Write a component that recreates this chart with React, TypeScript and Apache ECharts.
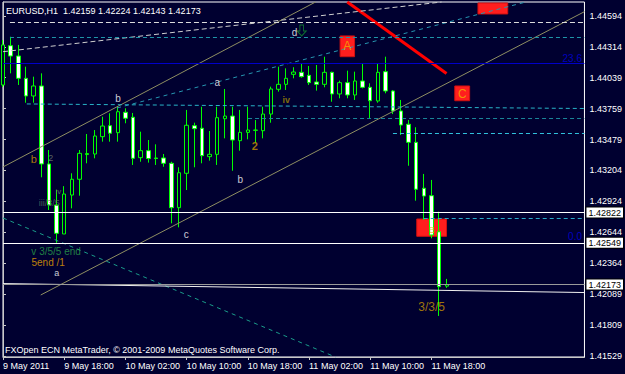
import { useEffect, useRef } from "react";
import * as echarts from "echarts";

const BG = "#000030";
const FONT = "'Liberation Sans', Arial, sans-serif";

const symbolName = "EURUSD";
const timeframe = "H1";
const copyrightText = "FXOpen ECN MetaTrader, © 2001-2009 MetaQuotes Software Corp.";

// hourly bars, 9 May 2011 10:00 .. 11 May 2011 20:00
const barTimes = [
  "9 May 10:00", "9 May 11:00", "9 May 12:00", "9 May 13:00", "9 May 14:00", "9 May 15:00", "9 May 16:00",
  "9 May 17:00", "9 May 18:00", "9 May 19:00", "9 May 20:00", "9 May 21:00", "9 May 22:00", "9 May 23:00",
  "10 May 00:00", "10 May 01:00", "10 May 02:00", "10 May 03:00", "10 May 04:00", "10 May 05:00", "10 May 06:00",
  "10 May 07:00", "10 May 08:00", "10 May 09:00", "10 May 10:00", "10 May 11:00", "10 May 12:00", "10 May 13:00",
  "10 May 14:00", "10 May 15:00", "10 May 16:00", "10 May 17:00", "10 May 18:00", "10 May 19:00", "10 May 20:00",
  "10 May 21:00", "10 May 22:00", "10 May 23:00",
  "11 May 00:00", "11 May 01:00", "11 May 02:00", "11 May 03:00", "11 May 04:00", "11 May 05:00", "11 May 06:00",
  "11 May 07:00", "11 May 08:00", "11 May 09:00", "11 May 10:00", "11 May 11:00", "11 May 12:00", "11 May 13:00",
  "11 May 14:00", "11 May 15:00", "11 May 16:00", "11 May 17:00", "11 May 18:00", "11 May 19:00", "11 May 20:00",
];
const chartShiftSlots = 18;

const opens = [
  1.43972, 1.44326, 1.44233, 1.44032, 1.43873, 1.43963, 1.4326, 1.4289, 1.42629, 1.4298,
  1.43122, 1.43345, 1.4335, 1.43506, 1.43605, 1.43542, 1.43726, 1.43681, 1.43317, 1.4338,
  1.43314, 1.43314, 1.43266, 1.42866, 1.43176, 1.43605, 1.43582, 1.43326, 1.43347, 1.43668,
  1.43692, 1.4347, 1.43545, 1.43563, 1.4356, 1.4371, 1.43933, 1.43978, 1.44068, 1.44086,
  1.44059, 1.43999, 1.43978, 1.44086, 1.43891, 1.43993, 1.43882, 1.44008, 1.43951, 1.43828,
  1.44092, 1.43918, 1.43738, 1.43618, 1.43455, 1.43041, 1.42974, 1.42649, 1.42159,
];
const highs = [
  1.44378, 1.44407, 1.44333, 1.44137, 1.44047, 1.44077, 1.43386, 1.43025, 1.4306, 1.43176,
  1.43386, 1.4353, 1.43566, 1.43686, 1.43717, 1.43776, 1.43762, 1.4372, 1.43551, 1.43476,
  1.43437, 1.4335, 1.4328, 1.4323, 1.43747, 1.43632, 1.43776, 1.43557, 1.43776, 1.43936,
  1.43776, 1.43747, 1.43776, 1.43656, 1.43776, 1.43957, 1.44137, 1.44122, 1.44132, 1.44168,
  1.44143, 1.44152, 1.44227, 1.44092, 1.44011, 1.44101, 1.44092, 1.44168, 1.43987, 1.44168,
  1.44227, 1.43927, 1.43837, 1.43656, 1.43591, 1.4317, 1.43116, 1.4283, 1.42224,
];
const lows = [
  1.43954, 1.44077, 1.43972, 1.43812, 1.43812, 1.4314, 1.42845, 1.4255, 1.42629, 1.4286,
  1.42974, 1.43266, 1.43311, 1.43461, 1.43461, 1.43461, 1.43627, 1.43251, 1.4328, 1.43272,
  1.43251, 1.43235, 1.42725, 1.42689, 1.43025, 1.4323, 1.43266, 1.4329, 1.43251, 1.43491,
  1.43199, 1.4338, 1.43482, 1.43452, 1.43491, 1.43632, 1.43912, 1.43927, 1.44032, 1.44038,
  1.43972, 1.43921, 1.43951, 1.43821, 1.43852, 1.43852, 1.43837, 1.43942, 1.43672, 1.43812,
  1.43897, 1.4371, 1.43521, 1.43244, 1.42929, 1.42755, 1.4259, 1.4189, 1.42143,
];
const closes = [
  1.44333, 1.44233, 1.44032, 1.43873, 1.43963, 1.4326, 1.4289, 1.42635, 1.42989, 1.43122,
  1.43356, 1.43354, 1.43512, 1.43602, 1.43537, 1.43731, 1.43672, 1.43311, 1.4338, 1.43309,
  1.43309, 1.43266, 1.42866, 1.43181, 1.43609, 1.43578, 1.43335, 1.43347, 1.43677, 1.43692,
  1.43476, 1.43545, 1.43566, 1.43566, 1.4371, 1.43936, 1.43978, 1.44032, 1.44089, 1.44047,
  1.43993, 1.43978, 1.44086, 1.43891, 1.43993, 1.43882, 1.44008, 1.43951, 1.4383, 1.44086,
  1.43918, 1.43738, 1.43611, 1.43455, 1.43032, 1.42971, 1.4262, 1.42154, 1.42173,
];

const yMin = 1.4152;
const yMax = 1.4472;
const yTickValues = [
  1.44594, 1.44314, 1.44039, 1.43759, 1.43479, 1.43204, 1.42924, 1.42644, 1.42364, 1.42089, 1.41809, 1.41529,
];

const xTickIndex = [0, 8, 16, 24, 32, 40, 48, 56];
const xTickLabels = [
  "9 May 2011", "9 May 18:00", "10 May 02:00", "10 May 10:00", "10 May 18:00", "11 May 02:00", "11 May 10:00", "11 May 18:00",
];

// horizontal lines with price labels on the axis
const priceLevels = [1.42822, 1.42549, 1.42173];
const priceLevelColors = ["#ffffff", "#ffffff", "#9a9a9a"];

// trend / level lines: [barIndexStart, priceStart, barIndexEnd, priceEnd]
const trendLines = [
  [0, 1.43233, 40.85, 1.4472],
  [4.93, 1.42079, 76, 1.44633],
  [45.0, 1.4472, 57.97, 1.44076],
  [0, 1.42773, 43.45, 1.4152],
  [0, 1.44272, 57.32, 1.4472],
  [14.91, 1.43765, 68.35, 1.4472],
  [0.91, 1.4454, 76, 1.4454],
  [0.91, 1.44405, 76, 1.44405],
  [3.11, 1.43801, 76, 1.4376],
  [32.03, 1.43674, 76, 1.43674],
  [50.97, 1.43537, 76, 1.43537],
  [54.99, 1.42767, 76, 1.42767],
  [0, 1.4417, 76, 1.4417],
  [0, 1.42182, 76, 1.42101],
];
const trendStyles = [
  { color: "#8e8e62", width: 1, type: "solid" },
  { color: "#8e8e62", width: 1, type: "solid" },
  { color: "#ff0000", width: 3, type: "solid" },
  { color: "#1a9c8a", width: 1, type: [4, 4] },
  { color: "#cfcfcf", width: 1, type: [5, 3] },
  { color: "#2696b0", width: 1, type: [4, 4] },
  { color: "#dcdcdc", width: 1, type: [5, 3] },
  { color: "#1f95a8", width: 1, type: [4, 3] },
  { color: "#28b4c8", width: 1, type: [4, 3] },
  { color: "#1a8498", width: 1, type: [4, 3] },
  { color: "#30c0dc", width: 1, type: [4, 3] },
  { color: "#28a8c8", width: 1, type: [4, 3] },
  { color: "#0000c8", width: 1, type: "solid" },
  { color: "#f0f0f0", width: 1, type: "solid" },
];

// red rectangles: [barIndexStart, priceTop, barIndexEnd, priceBottom]
const boxes = [
  [44.06, 1.44414, 45.95, 1.44227],
  [62.08, 1.44711, 65.97, 1.44612],
  [59.05, 1.43963, 60.99, 1.4383],
  [54.08, 1.42764, 57.97, 1.42608],
];

// text annotations
const noteTexts = [
  "b", "a", "d", "iv", "2", "b", "c", "b", "2", "iv", "iii/3/5", "v 3/5/5 end", "5end /1", "a", "3/3/5",
  "A", "C", "B", "23.6", "0.0",
];
const notePositions = [
  [15.04, 1.43852], [28.01, 1.43996], [38.09, 1.44443], [37.03, 1.43837], [32.9, 1.43422],
  [31.0, 1.43116], [23.95, 1.42626], [4.02, 1.43305], [6.23, 1.43314], [7.23, 1.43009],
  [6.03, 1.42907], [6.94, 1.42468], [5.9, 1.42372], [7.04, 1.42277], [56.03, 1.41971],
  [45.0, 1.44319], [60.02, 1.43895], [56.03, 1.42665], [75.74, 1.44215], [75.74, 1.42606],
];
const noteStyles = [
  { color: "#ffffff", size: 10 }, { color: "#ffffff", size: 10 }, { color: "#ffffff", size: 10 },
  { color: "#a08c00", size: 9, weight: "bold" }, { color: "#c89400", size: 11, weight: "bold" },
  { color: "#ffffff", size: 10 }, { color: "#ffffff", size: 10 }, { color: "#d89400", size: 11 },
  { color: "#6f7f72", size: 9 }, { color: "#6f7f72", size: 8 }, { color: "#5f6f62", size: 9 },
  { color: "#2aa048", size: 10 }, { color: "#e8a400", size: 10 }, { color: "#ffffff", size: 9 },
  { color: "#c89400", size: 12 },
  { color: "#f0b000", size: 12 }, { color: "#f0b000", size: 12 }, { color: "#e8c000", size: 9 },
  { color: "#0000e0", size: 10, pos: "left" }, { color: "#0000e0", size: 10, pos: "left" },
];

const arrowPoint = [39.04, 1.44463];

export default function App() {
  const ref = useRef<HTMLDivElement>(null);

  useEffect(() => {
    document.body.style.margin = "0";
    const el = ref.current;
    if (!el) return;
    const chart = echarts.init(el, null, { renderer: "svg" });

    const categories = barTimes.concat(Array.from({ length: chartShiftSlots }, (_, i) => `shift ${i + 1}`));
    const lastIndex = categories.length - 1;
    const candleData = opens.map((o, i) => [o, closes[i], lows[i], highs[i]]);
    const n = opens.length - 1;
    const fmt = (v: number) => v.toFixed(5);
    const titleText = `${symbolName},${timeframe}  ${fmt(opens[n])} ${fmt(highs[n])} ${fmt(lows[n])} ${fmt(closes[n])}`;
    const tickFn = (index: number) => xTickIndex.indexOf(index) >= 0;

    const trendData: any[] = trendLines.map((l, i) => ({
      coords: [[l[0], l[1]], [l[2], l[3]]],
      lineStyle: { color: trendStyles[i].color, width: trendStyles[i].width, type: trendStyles[i].type, opacity: 1 },
      label: { show: false },
    }));
    const levelData: any[] = priceLevels.map((p, i) => ({
      coords: [[0, p], [lastIndex, p]],
      lineStyle: { color: priceLevelColors[i], width: 1, type: "solid", opacity: 1 },
      label: {
        show: true, position: "end", distance: 2, formatter: () => fmt(p),
        color: "#000000", backgroundColor: "#ffffff", borderColor: "#000000", borderWidth: 1,
        padding: [1, 2, 0, 2], fontSize: 9, fontFamily: FONT,
      },
    }));

    const option: any = {
      animation: false,
      backgroundColor: BG,
      textStyle: { fontFamily: FONT },
      grid: {
        left: 3, right: 36, top: 2, bottom: 17, show: true,
        borderColor: "#ffffff", borderWidth: 1, backgroundColor: "transparent",
      },
      xAxis: [
        {
          type: "category",
          data: categories,
          boundaryGap: false,
          axisLine: { show: true, lineStyle: { color: "#c8c8c8" } },
          axisTick: { show: true, interval: tickFn, length: 3, lineStyle: { color: "#c8c8c8" } },
          axisLabel: {
            interval: tickFn,
            formatter: (_v: string, i: number) => {
              const k = xTickIndex.indexOf(i);
              return k >= 0 ? xTickLabels[k] : "";
            },
            color: "#ffffff", fontSize: 9, fontFamily: FONT, align: "left", margin: 4,
          },
          splitLine: { show: false },
        },
        { type: "value", min: 0, max: lastIndex, show: false },
      ],
      yAxis: {
        type: "value",
        position: "right",
        min: yMin,
        max: yMax,
        axisLine: { show: true, lineStyle: { color: "#c8c8c8" } },
        axisTick: { show: true, customValues: yTickValues, length: 3, lineStyle: { color: "#c8c8c8" } },
        axisLabel: {
          customValues: yTickValues,
          formatter: (v: number) => v.toFixed(5),
          color: "#ffffff", fontSize: 9, fontFamily: FONT, margin: 5,
        },
        splitLine: { show: false },
      },
      graphic: [
        { type: "text", left: 6, top: 6, style: { text: titleText, fill: "#ffffff", font: `9px ${FONT}` } },
        { type: "text", left: 5, top: 345, style: { text: copyrightText, fill: "#ffffff", font: `9px ${FONT}` } },
      ],
      series: [
        {
          type: "custom",
          name: "boxes",
          xAxisIndex: 1,
          yAxisIndex: 0,
          z: 1,
          silent: true,
          data: boxes,
          encode: { x: [0, 2], y: [1, 3] },
          renderItem: (_p: any, api: any) => {
            const a = api.coord([api.value(0), api.value(1)]);
            const b = api.coord([api.value(2), api.value(3)]);
            return {
              type: "rect",
              shape: { x: Math.min(a[0], b[0]), y: Math.min(a[1], b[1]), width: Math.abs(b[0] - a[0]), height: Math.abs(b[1] - a[1]) },
              style: { fill: "#ff1e1e", stroke: "#d01010", lineWidth: 1 },
            };
          },
        },
        {
          type: "candlestick",
          name: symbolName,
          xAxisIndex: 0,
          yAxisIndex: 0,
          z: 2,
          barWidth: 4,
          data: candleData,
          itemStyle: { color: BG, color0: "#ffffff", borderColor: "#00ff00", borderColor0: "#00ff00", borderWidth: 1 },
        },
        {
          type: "lines",
          coordinateSystem: "cartesian2d",
          xAxisIndex: 1,
          yAxisIndex: 0,
          z: 3,
          silent: true,
          clip: false,
          data: trendData.concat(levelData),
        },
        {
          type: "scatter",
          xAxisIndex: 1,
          yAxisIndex: 0,
          z: 5,
          silent: true,
          symbolSize: 1,
          itemStyle: { color: "transparent" },
          data: noteTexts.map((t, i) => ({
            value: notePositions[i],
            label: {
              show: true,
              position: (noteStyles[i] as any).pos || "inside",
              distance: 0,
              formatter: () => t,
              color: noteStyles[i].color,
              fontSize: noteStyles[i].size,
              fontWeight: (noteStyles[i] as any).weight || "normal",
              fontFamily: FONT,
            },
          })),
        },
        {
          type: "scatter",
          xAxisIndex: 1,
          yAxisIndex: 0,
          z: 5,
          silent: true,
          symbol: "path://M3,0 L7,0 L7,6 L10,6 L5,11 L0,6 L3,6 Z",
          symbolSize: [9, 11],
          itemStyle: { color: "transparent", borderColor: "#0f8a30", borderWidth: 1 },
          data: [arrowPoint],
        },
      ],
    };
    chart.setOption(option);
    return () => chart.dispose();
  }, []);

  return <div ref={ref} style={{ position: "fixed", left: 0, top: 0, width: 625, height: 374 }} />;
}
